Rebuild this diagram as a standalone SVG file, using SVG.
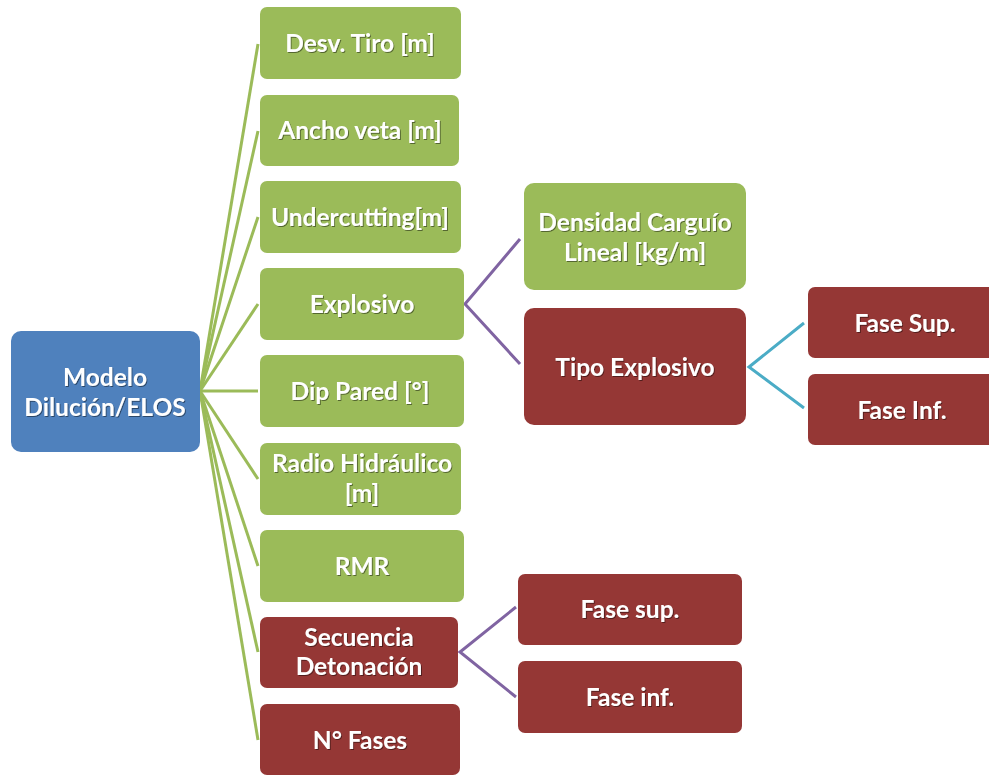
<svg xmlns="http://www.w3.org/2000/svg" width="989" height="775" viewBox="0 0 989 775">
  <defs>
    <filter id="txtShadow" x="-10%" y="-30%" width="120%" height="160%">
      <feDropShadow dx="1" dy="1" stdDeviation="0.6" flood-color="#000" flood-opacity="0.45"/>
    </filter>
  </defs>
  <style>
    .blue { fill: #4F81BD; }
    .green { fill: #9BBB59; }
    .red { fill: #953735; }
    .lbl { font-family: Lato, "Open Sans", "Liberation Sans", sans-serif; font-weight: bold; font-size: 24.5px; fill: #FFFFFF; text-anchor: middle; dominant-baseline: central; filter: url(#txtShadow); }
    .c-green { stroke: #9BBB59; stroke-width: 3; fill: none; }
    .c-purple { stroke: #8064A2; stroke-width: 3; fill: none; }
    .c-cyan { stroke: #4BACC6; stroke-width: 3; fill: none; }
  </style>
  <rect width="989" height="775" fill="#FFFFFF"/>

  <g id="connectors">
    <!-- root fan to the parameter column -->
    <line class="c-green" x1="200" y1="391" x2="258" y2="44"/>
    <line class="c-green" x1="200" y1="391" x2="258" y2="131"/>
    <line class="c-green" x1="200" y1="391" x2="258" y2="217"/>
    <line class="c-green" x1="200" y1="391" x2="258" y2="304"/>
    <line class="c-green" x1="200" y1="391" x2="258" y2="391"/>
    <line class="c-green" x1="200" y1="391" x2="258" y2="479"/>
    <line class="c-green" x1="200" y1="391" x2="258" y2="566"/>
    <line class="c-green" x1="200" y1="391" x2="258" y2="652"/>
    <line class="c-green" x1="200" y1="391" x2="258" y2="740"/>
    <!-- Explosivo branches -->
    <polyline class="c-purple" points="520,239 465,304 520,364"/>
    <!-- Tipo Explosivo branches -->
    <polyline class="c-cyan" points="804,323 749,367 804,408"/>
    <!-- Secuencia Detonación branches -->
    <polyline class="c-purple" points="516,607 460,652 516,697"/>
  </g>

  <g id="root">
    <rect class="blue" x="11" y="331" width="189" height="121" rx="10"/>
    <text class="lbl" x="105" y="376">Modelo</text>
    <text class="lbl" x="105" y="406">Dilución/ELOS</text>
  </g>

  <g id="desv-tiro">
    <rect class="green" x="260" y="7" width="201" height="72" rx="7"/>
    <text class="lbl" x="360" y="42">Desv. Tiro [m]</text>
  </g>
  <g id="ancho-veta">
    <rect class="green" x="260" y="95" width="199" height="71" rx="7"/>
    <text class="lbl" x="360" y="129">Ancho veta [m]</text>
  </g>
  <g id="undercutting">
    <rect class="green" x="260" y="181" width="201" height="72" rx="7"/>
    <text class="lbl" x="360" y="216">Undercutting[m]</text>
  </g>
  <g id="explosivo">
    <rect class="green" x="260" y="268" width="204" height="72" rx="7"/>
    <text class="lbl" x="362" y="303">Explosivo</text>
  </g>
  <g id="dip-pared">
    <rect class="green" x="260" y="355" width="204" height="72" rx="7"/>
    <text class="lbl" x="360" y="390">Dip Pared [°]</text>
  </g>
  <g id="radio-hidraulico">
    <rect class="green" x="260" y="443" width="201" height="72" rx="7"/>
    <text class="lbl" x="362" y="462">Radio Hidráulico</text>
    <text class="lbl" x="362" y="492">[m]</text>
  </g>
  <g id="rmr">
    <rect class="green" x="260" y="530" width="204" height="72" rx="7"/>
    <text class="lbl" x="362" y="565">RMR</text>
  </g>
  <g id="secuencia">
    <rect class="red" x="260" y="617" width="198" height="71" rx="7"/>
    <text class="lbl" x="359" y="636">Secuencia</text>
    <text class="lbl" x="359" y="665">Detonación</text>
  </g>
  <g id="n-fases">
    <rect class="red" x="260" y="704" width="200" height="71" rx="7"/>
    <text class="lbl" x="360" y="739">N° Fases</text>
  </g>

  <g id="densidad">
    <rect class="green" x="524" y="183" width="222" height="107" rx="10"/>
    <text class="lbl" x="635" y="221">Densidad Carguío</text>
    <text class="lbl" x="635" y="251">Lineal [kg/m]</text>
  </g>
  <g id="tipo-explosivo">
    <rect class="red" x="524" y="308" width="222" height="117" rx="10"/>
    <text class="lbl" x="635" y="366">Tipo Explosivo</text>
  </g>

  <g id="fase-sup-tipo">
    <rect class="red" x="808" y="287" width="190" height="71" rx="7"/>
    <text class="lbl" x="905" y="322">Fase Sup.</text>
  </g>
  <g id="fase-inf-tipo">
    <rect class="red" x="808" y="374" width="190" height="71" rx="7"/>
    <text class="lbl" x="902" y="409">Fase Inf.</text>
  </g>

  <g id="fase-sup-sec">
    <rect class="red" x="518" y="574" width="224" height="71" rx="7"/>
    <text class="lbl" x="630" y="608">Fase sup.</text>
  </g>
  <g id="fase-inf-sec">
    <rect class="red" x="518" y="661" width="224" height="72" rx="7"/>
    <text class="lbl" x="630" y="696">Fase inf.</text>
  </g>
</svg>
